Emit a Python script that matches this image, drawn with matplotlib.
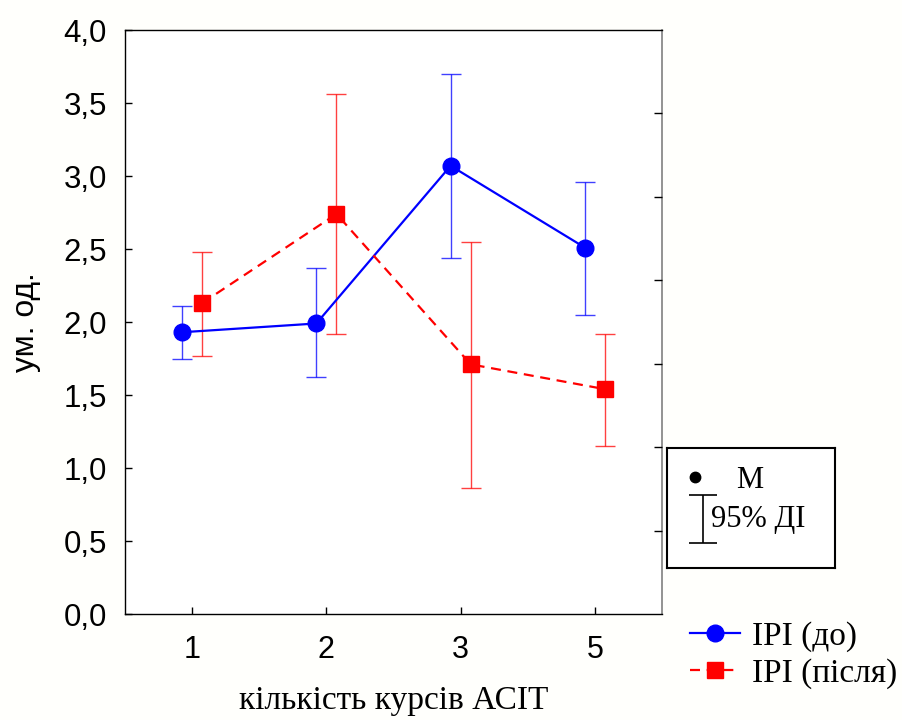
import numpy as np
import matplotlib
matplotlib.use('Agg')
import matplotlib.pyplot as plt
from matplotlib.lines import Line2D

# data
courses = ['1', '2', '3', '5']
ipi_before = [1.93, 1.99, 3.07, 2.51]
ipi_before_lo = [1.75, 1.62, 2.44, 2.05]
ipi_before_hi = [2.11, 2.37, 3.70, 2.96]
ipi_after = [2.13, 2.74, 1.71, 1.54]
ipi_after_lo = [1.77, 1.92, 0.86, 1.15]
ipi_after_hi = [2.48, 3.56, 2.55, 1.92]
yticks = [0, 0.5, 1.0, 1.5, 2.0, 2.5, 3.0, 3.5, 4.0]

SANS = 'Liberation Sans'
SERIF = 'Liberation Serif'
RED_DASH = (0, (4.5, 3))

fig = plt.figure(figsize=(9.02, 7.2), dpi=100)
fig.patch.set_facecolor('#fffffc')
ax = fig.add_axes([0.1386, 0.1472, 0.5954, 0.8111])
ax.set_facecolor('white')

pos = np.arange(1, len(courses) + 1)
off = 0.075

def err(m, lo, hi):
  m, lo, hi = np.array(m), np.array(lo), np.array(hi)
  return [m - lo, hi - m]

ax.errorbar(pos - off, ipi_before, yerr=err(ipi_before, ipi_before_lo, ipi_before_hi),
  fmt='none', ecolor=(0, 0, 1, 0.75), elinewidth=1.0, capsize=7, capthick=1.0, zorder=2)
ax.errorbar(pos + off, ipi_after, yerr=err(ipi_after, ipi_after_lo, ipi_after_hi),
  fmt='none', ecolor=(1, 0, 0, 0.75), elinewidth=1.0, capsize=7, capthick=1.0, zorder=2)
ax.plot(pos - off, ipi_before, color='#0000ff', lw=1.6, marker='o', ms=12, zorder=3)
ax.plot(pos + off, ipi_after, color='#ff0000', lw=1.6, ls=RED_DASH, marker='s', ms=11.5, zorder=3)

ax.set_xlim(0.5, 4.5)
ax.set_ylim(0, 4)
ax.set_xticks(pos)
ax.set_xticklabels(courses, fontsize=22, family=SANS)
ax.set_yticks(yticks)
ax.set_yticklabels([('%.1f' % v).replace('.', ',') for v in yticks], fontsize=22.5, family=SANS)
ax.tick_params(axis='both', direction='in', length=5, width=1, color='black', pad=13)
ax.tick_params(axis='x', pad=15)
ax.set_ylabel('ум. од.', fontsize=23, family=SANS, labelpad=16)
ax.set_xlabel('кількість курсів АСІТ', fontsize=24, family=SERIF, labelpad=15)
for s in ['left', 'bottom', 'top']:
  ax.spines[s].set_color('black')
  ax.spines[s].set_linewidth(1.0)
ax.spines['right'].set_color('#808080')
ax.spines['right'].set_linewidth(1.2)

# extra ticks on the right spine (7 divisions)
ax2 = ax.twinx()
ax2.set_ylim(0, 4)
ax2.set_yticks(np.linspace(0, 4, 8)[1:-1])
ax2.set_yticklabels([])
ax2.tick_params(axis='y', direction='in', length=6, width=1, color='black')
for s in ax2.spines.values():
  s.set_visible(False)

# series legend
handles = [
  Line2D([], [], color='#0000ff', lw=1.6, marker='o', ms=12),
  Line2D([], [], color='#ff0000', lw=1.6, ls=RED_DASH, marker='s', ms=11.5),
]
leg = fig.legend(handles, ['IPI (до)', 'IPI (після)'], loc='upper left',
  bbox_to_anchor=(0.7506, 0.156), frameon=False, handlelength=1.5, handletextpad=0.36,
  labelspacing=0.2, borderaxespad=0, prop={'family': SERIF, 'size': 24})

# M / 95% CI key box
kb = fig.add_axes([0.7395, 0.2111, 0.1862, 0.1667])
kb.set_xlim(0, 1)
kb.set_ylim(0, 1)
kb.set_xticks([])
kb.set_yticks([])
for s in kb.spines.values():
  s.set_linewidth(1.5)
  s.set_color('black')
kb.plot([0.167], [0.758], 'o', color='black', ms=7.5)
kb.text(0.41, 0.733, 'M', fontsize=22, family=SERIF, va='center', ha='left')
kb.errorbar([0.214], [0.408], yerr=[[0.2], [0.2]], fmt='none', ecolor='black',
  elinewidth=1.2, capsize=10, capthick=1.2)
kb.text(0.262, 0.405, '95% ДІ', fontsize=22, family=SERIF, va='center', ha='left')

fig.savefig('out.png', dpi=100, facecolor=fig.get_facecolor())
